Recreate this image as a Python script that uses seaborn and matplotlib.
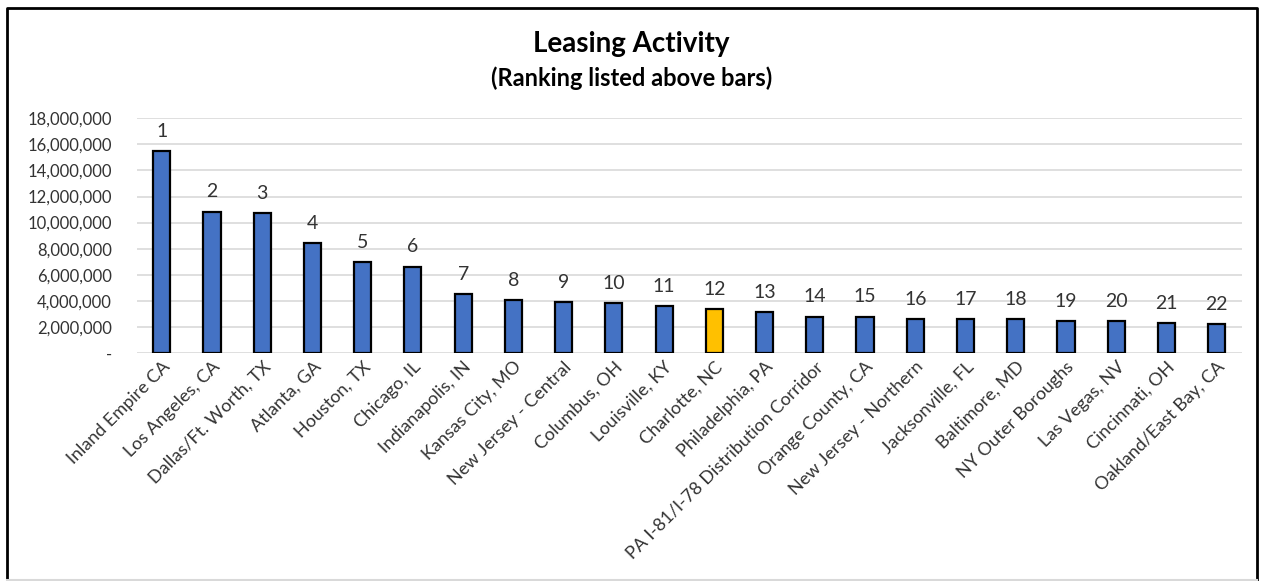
import numpy as np
import pandas as pd
import seaborn as sns
import matplotlib.pyplot as plt
from matplotlib.lines import Line2D
from matplotlib.ticker import FuncFormatter

markets = ["Inland Empire CA", "Los Angeles, CA", "Dallas/Ft. Worth, TX", "Atlanta, GA",
           "Houston, TX", "Chicago, IL", "Indianapolis, IN", "Kansas City, MO",
           "New Jersey - Central", "Columbus, OH", "Louisville, KY", "Charlotte, NC",
           "Philadelphia, PA", "PA I-81/I-78 Distribution Corridor", "Orange County, CA",
           "New Jersey - Northern", "Jacksonville, FL", "Baltimore, MD", "NY Outer Boroughs",
           "Las Vegas, NV", "Cincinnati, OH", "Oakland/East Bay, CA"]
leasing = [15500000, 10850000, 10750000, 8450000, 6950000, 6630000, 4550000, 4080000,
           3920000, 3850000, 3600000, 3370000, 3130000, 2800000, 2800000, 2630000,
           2630000, 2630000, 2470000, 2470000, 2320000, 2240000]
ranks = list(range(1, 23))
highlight = "Charlotte, NC"

df = pd.DataFrame({"market": markets, "sf": leasing})
colors = ["#FFC000" if m == highlight else "#4472C4" for m in markets]

plt.rcParams['font.family'] = ['Lato', 'DejaVu Sans']
fig = plt.figure(figsize=(12.63, 5.81), dpi=100)
ax = fig.add_axes([0.1082, 0.3924, 0.875, 0.404])

sns.barplot(data=df, x="market", y="sf", hue="market", palette=colors, legend=False,
            saturation=1, width=0.34, edgecolor="black", linewidth=1.6, ax=ax)

# rank numbers above each bar
for cont, r in zip(ax.containers, ranks):
    ax.bar_label(cont, labels=[str(r)], padding=8, fontsize=14, color="#333333")

ax.set_ylim(0, 18000000)
ax.set_yticks(np.arange(0, 18000001, 2000000))
ax.yaxis.set_major_formatter(FuncFormatter(lambda v, p: "-" if v == 0 else f"{int(v):,}"))
ax.set_xlim(-0.5, len(markets) - 0.5)
ax.grid(axis="y", color="#d9d9d9", linewidth=1.2)
ax.set_axisbelow(True)
for s in ax.spines.values():
    s.set_visible(False)
ax.tick_params(axis="both", length=0, colors="#333333")
ax.tick_params(axis="y", labelsize=12, pad=18)
ax.tick_params(axis="x", labelsize=13, pad=4)
plt.setp(ax.get_xticklabels(), rotation=45, ha="right", rotation_mode="anchor")
ax.set_xlabel("")
ax.set_ylabel("")

fig.text(0.5, 0.925, "Leasing Activity", ha="center", va="center", fontsize=20, fontweight="bold")
fig.text(0.5, 0.866, "(Ranking listed above bars)", ha="center", va="center", fontsize=17, fontweight="bold")

# chart frame
x0, x1 = 7 / 1263, 1257 / 1263
y0, y1 = 1.5 / 581, 1 - 8 / 581
fig.add_artist(Line2D([x0, x0, x1, x1], [y0, y1, y1, y0], transform=fig.transFigure,
                      color="black", linewidth=2))
fig.add_artist(Line2D([x0, x1], [y0, y0], transform=fig.transFigure,
                      color="#d9d9d9", linewidth=1.5))

fig.savefig("out.png", dpi=100)
